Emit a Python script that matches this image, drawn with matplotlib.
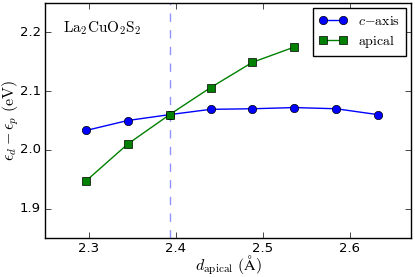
import numpy as np
import matplotlib
matplotlib.use("Agg")
from matplotlib import pyplot as plt

plt.style.use("classic")
plt.rcParams["mathtext.fontset"] = "cm"
plt.rcParams["font.size"] = 10

# data
d_caxis = [2.297, 2.345, 2.393, 2.440, 2.488, 2.536, 2.584, 2.632]
e_caxis = [2.033, 2.050, 2.060, 2.069, 2.070, 2.072, 2.070, 2.060]
d_apical = [2.297, 2.345, 2.393, 2.440, 2.488, 2.536]
e_apical = [1.947, 2.010, 2.060, 2.106, 2.149, 2.175]
d_eq = 2.393

fig = plt.figure(figsize=(4.15, 2.77), dpi=100, facecolor="white")
ax = fig.add_axes([45 / 415, 1 - 238 / 277, 366 / 415, 235 / 277])

ax.axvline(d_eq, color="#9090ff", linestyle="--", linewidth=1)
ax.plot(d_caxis, e_caxis, "b-o", markersize=6, label=r"$c{-}\mathrm{axis}$")
ax.plot(d_apical, e_apical, "g-s", markersize=6, label=r"$\mathrm{apical}$")

ax.set_xlim(2.25, 2.67)
ax.set_ylim(1.85, 2.25)
ax.set_xticks([2.3, 2.4, 2.5, 2.6])
ax.set_yticks([1.9, 2.0, 2.1, 2.2])
ax.tick_params(labelsize=9.5, pad=3)

ax.set_xlabel(r"$d_{\rm apical}\ (\mathrm{\AA})$", fontsize=11.5)
ax.set_ylabel(r"$\epsilon_d - \epsilon_p\ (\mathrm{eV})$", fontsize=11.5)
ax.xaxis.set_label_coords(0.5, -0.066)
ax.yaxis.set_label_coords(-0.066, 0.5)
ax.text(2.271, 2.2, r"$\mathrm{La_2CuO_2S_2}$", fontsize=11)

leg = ax.legend(loc="upper right", numpoints=2, fontsize=10, fancybox=False,
                handlelength=2.0, borderpad=0.45, labelspacing=0.35,
                borderaxespad=0.35)

fig.savefig("out.png", dpi=100, facecolor="white")
